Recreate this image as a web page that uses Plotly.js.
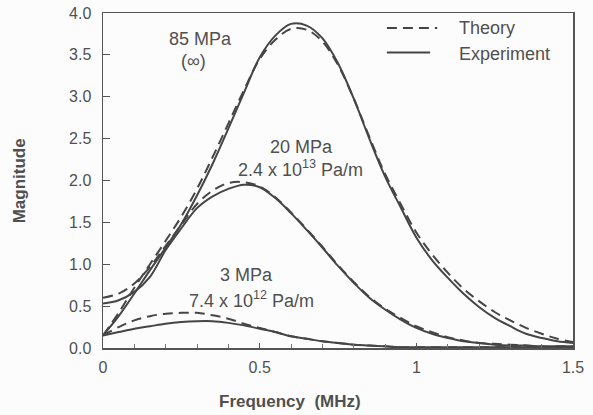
<!DOCTYPE html>
<html>
<head>
<meta charset="utf-8">
<script src="https://cdn.plot.ly/plotly-3.0.1.min.js"></script>
<style>html,body{margin:0;padding:0;background:#fcfcfc;}#chart{width:593px;height:415px;}</style>
</head>
<body>
<div id="chart"></div>
<script>
// Frequency grid (MHz)
var freq = [0.00,0.05,0.10,0.15,0.20,0.25,0.30,0.35,0.40,0.45,0.50,0.55,0.60,0.65,0.70,0.75,
            0.80,0.85,0.90,0.95,1.00,1.05,1.10,1.15,1.20,1.25,1.30,1.35,1.40,1.45,1.50];

// 85 MPa (infinite stiffness)
var exp85 = [0.15,0.38,0.65,0.93,1.20,1.48,1.82,2.20,2.62,3.05,3.47,3.73,3.87,3.85,3.70,3.40,
             2.98,2.50,2.05,1.68,1.32,1.05,0.84,0.65,0.49,0.36,0.26,0.17,0.12,0.08,0.06];
var th85  = [0.15,0.42,0.72,1.00,1.28,1.57,1.90,2.28,2.68,3.08,3.45,3.68,3.81,3.80,3.66,3.38,
             2.98,2.52,2.08,1.72,1.38,1.12,0.90,0.71,0.56,0.43,0.33,0.24,0.17,0.11,0.07];

// 20 MPa, 2.4e13 Pa/m
var exp20 = [0.53,0.57,0.67,0.85,1.17,1.43,1.67,1.81,1.90,1.95,1.92,1.79,1.61,1.41,1.20,0.98,
             0.78,0.60,0.46,0.34,0.24,0.17,0.12,0.08,0.06,0.04,0.03,0.03,0.02,0.02,0.02];
var th20  = [0.60,0.65,0.77,0.97,1.22,1.47,1.72,1.88,1.97,1.98,1.93,1.80,1.62,1.42,1.21,0.99,
             0.79,0.61,0.47,0.36,0.26,0.19,0.13,0.09,0.06,0.05,0.04,0.03,0.02,0.02,0.02];

// 3 MPa, 7.4e12 Pa/m
var exp3  = [0.15,0.19,0.23,0.26,0.29,0.31,0.32,0.32,0.30,0.27,0.23,0.19,0.14,0.11,0.08,0.06,
             0.04,0.03,0.02,0.01,0.01,0.01,0.01,0.01,0.01,0.01,0.01,0.01,0.01,0.01,0.01];
var th3   = [0.15,0.25,0.33,0.38,0.41,0.42,0.42,0.39,0.35,0.29,0.24,0.19,0.14,0.11,0.08,0.06,
             0.04,0.03,0.02,0.01,0.01,0.01,0.01,0.01,0.01,0.01,0.01,0.01,0.01,0.01,0.01];

var legendNames = ['Theory', 'Experiment'];
var curveLabels = ['85 MPa', '(\u221e)', '20 MPa', '2.4 x 10<sup>13</sup> Pa/m', '3 MPa', '7.4 x 10<sup>12</sup> Pa/m'];

var lineColor = '#454545';
var textColor = '#505050';
var dashPat = '10px,6px';
var fam = '"Liberation Sans", Arial, Helvetica, sans-serif';

function tr(y, isTheory) {
  return {
    x: freq, y: y, type: 'scatter', mode: 'lines',
    line: {color: lineColor, width: 2, shape: 'spline', smoothing: 1, dash: isTheory ? dashPat : 'solid'},
    name: isTheory ? legendNames[0] : legendNames[1],
    showlegend: false, hoverinfo: 'skip'
  };
}

var data = [
  tr(th85, true), tr(exp85, false),
  tr(th20, true), tr(exp20, false),
  tr(th3, true), tr(exp3, false)
];

var tickFont = {family: fam, size: 16, color: textColor};
var labFont = {family: fam, size: 18, color: textColor};
var titleFont = {family: fam, size: 17, color: textColor};

// legend drawn as decoration (paper coords)
var legX0 = 0.604, legX1T = 0.711, legX1E = 0.696, legTX = 0.753;
var legYT = 0.955, legYE = 0.882;

var layout = {
  width: 593, height: 415,
  margin: {l: 103, r: 20, t: 13, b: 67},
  paper_bgcolor: '#fcfcfc', plot_bgcolor: '#fcfcfc',
  font: tickFont,
  showlegend: false,
  xaxis: {
    range: [0, 1.5], dtick: 0.5, tick0: 0,
    ticks: 'inside', ticklen: 5, tickcolor: '#555', tickwidth: 1,
    minor: {dtick: 0.1, ticks: 'inside', ticklen: 4, tickcolor: '#777'},
    showline: true, linecolor: '#555', linewidth: 1.5, mirror: true,
    showgrid: false, zeroline: false, tickfont: tickFont, ticklabelstandoff: 4
  },
  yaxis: {
    range: [0, 4], dtick: 0.5, tick0: 0, tickformat: '.1f',
    ticks: 'inside', ticklen: 7, tickcolor: '#555', tickwidth: 1,
    showline: true, linecolor: '#555', linewidth: 1.5, mirror: true,
    showgrid: false, zeroline: false, tickfont: tickFont, ticklabelstandoff: 7
  },
  shapes: [
    {type: 'line', xref: 'paper', yref: 'paper', x0: legX0, x1: legX1T, y0: legYT, y1: legYT,
     line: {color: lineColor, width: 2, dash: dashPat}},
    {type: 'line', xref: 'paper', yref: 'paper', x0: legX0, x1: legX1E, y0: legYE, y1: legYE,
     line: {color: lineColor, width: 2}}
  ],
  annotations: [
    {x: 0.31, y: 3.69, text: curveLabels[0], showarrow: false, font: labFont},
    {x: 0.29, y: 3.43, text: curveLabels[1], showarrow: false, font: labFont},
    {x: 0.635, y: 2.40, text: curveLabels[2], showarrow: false, font: labFont},
    {x: 0.63, y: 2.14, text: curveLabels[3], showarrow: false, font: labFont},
    {x: 0.457, y: 0.87, text: curveLabels[4], showarrow: false, font: labFont},
    {x: 0.474, y: 0.575, text: curveLabels[5], showarrow: false, font: labFont},
    {xref: 'paper', yref: 'paper', x: legTX, y: legYT, xanchor: 'left', yanchor: 'middle',
     text: legendNames[0], showarrow: false, font: labFont},
    {xref: 'paper', yref: 'paper', x: legTX, y: legYE - 0.005, xanchor: 'left', yanchor: 'middle',
     text: legendNames[1], showarrow: false, font: labFont},
    {xref: 'paper', yref: 'paper', x: 0.398, y: -0.161, xanchor: 'center', yanchor: 'middle',
     text: '<b>Frequency  (MHz)</b>', showarrow: false, font: titleFont},
    {xref: 'paper', yref: 'paper', x: -0.177, y: 0.5, xanchor: 'center', yanchor: 'middle',
     text: '<b>Magnitude</b>', textangle: -90, showarrow: false, font: titleFont}
  ]
};

Plotly.newPlot('chart', data, layout, {displayModeBar: false, staticPlot: true});
</script>
</body>
</html>
